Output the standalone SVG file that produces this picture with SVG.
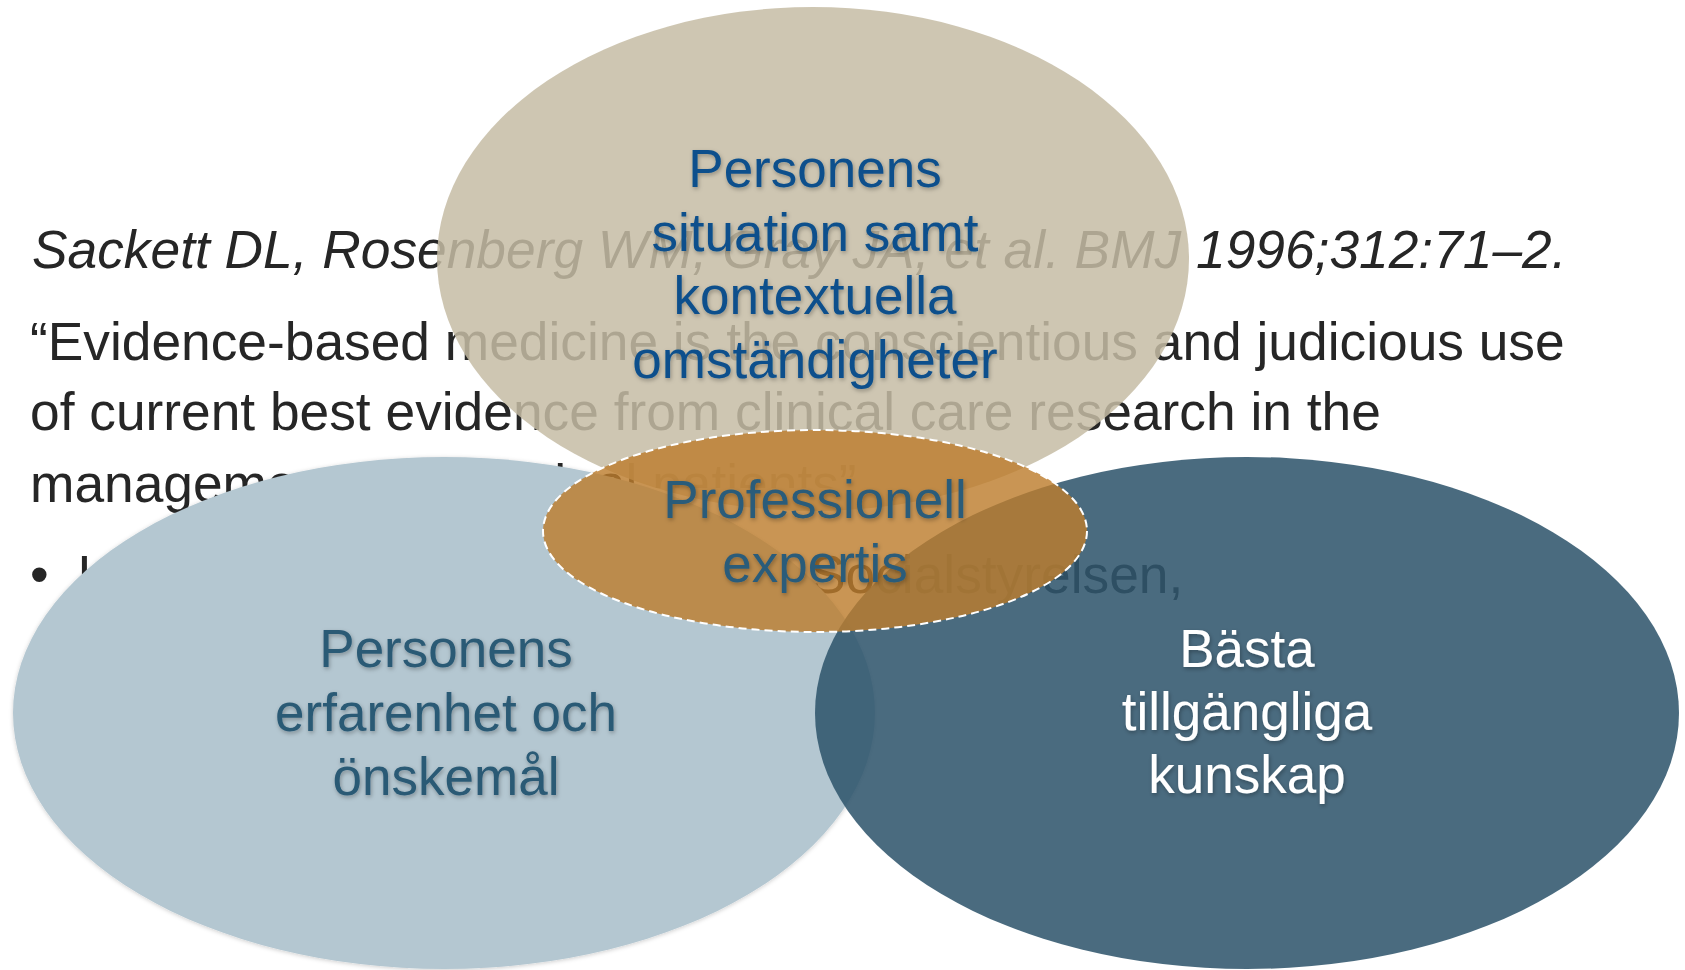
<svg xmlns="http://www.w3.org/2000/svg" width="1685" height="970" viewBox="0 0 1685 970">
  <style>
    .body { font-family: "Liberation Sans", Arial, sans-serif; font-size: 53.3px; fill: #262626; }
    .it { font-style: italic; }
    .lbl { font-family: "Liberation Sans", Arial, sans-serif; font-size: 53px; text-anchor: middle; filter: url(#tshadow); }
  </style>
  <defs>
    <filter id="tshadow" x="-10%" y="-30%" width="120%" height="160%">
      <feDropShadow dx="1" dy="2" stdDeviation="2" flood-color="#000" flood-opacity="0.3"/>
    </filter>
    <filter id="eshadow" x="-5%" y="-5%" width="110%" height="110%">
      <feDropShadow dx="0" dy="1" stdDeviation="2" flood-color="#000" flood-opacity="0.2"/>
    </filter>
    <clipPath id="mgmtClip">
      <rect x="0" y="0" width="590" height="970"/>
      <rect x="590" y="0" width="1095" height="488"/>
    </clipPath>
  </defs>

  <g id="background-text">
    <text class="body it" x="32" y="268">Sackett DL, Rosenberg WM, Gray JA, et al. BMJ 1996;312:71–2.</text>
    <text class="body" x="30" y="360">“Evidence-based medicine is the conscientious and judicious use</text>
    <text class="body" x="30" y="430">of current best evidence from clinical care research in the</text>
    <text class="body" x="30" y="502" clip-path="url(#mgmtClip)">management of individual patients”</text>
    <text class="body" x="30" y="593">•</text>
    <text class="body" x="77" y="593">I</text>
    <text class="body" x="810" y="593">Socialstyrelsen,</text>
  </g>

  <g id="node-context">
    <ellipse cx="813" cy="259" rx="376" ry="252" fill="#c6bca5" fill-opacity="0.85"/>
  </g>
  <g id="node-experience">
    <ellipse cx="444" cy="713" rx="431" ry="256" fill="#b4c7d1" filter="url(#eshadow)"/>
  </g>
  <g id="node-knowledge">
    <ellipse cx="1247" cy="713" rx="432" ry="256" fill="#2f556c" fill-opacity="0.87"/>
  </g>
  <g id="node-expertise">
    <ellipse cx="815" cy="531" rx="272" ry="101" fill="#bc7c2c" fill-opacity="0.81" stroke="#ffffff" stroke-width="2" stroke-dasharray="8 5"/>
  </g>

  <g id="labels">
    <text class="lbl" x="815" y="187" fill="#0b4f8c">Personens</text>
    <text class="lbl" x="815" y="251" fill="#0b4f8c">situation samt</text>
    <text class="lbl" x="815" y="314" fill="#0b4f8c">kontextuella</text>
    <text class="lbl" x="815" y="378" fill="#0b4f8c">omständigheter</text>

    <text class="lbl" x="815" y="518" fill="#2b5c7a">Professionell</text>
    <text class="lbl" x="815" y="582" fill="#2b5c7a">expertis</text>

    <text class="lbl" x="446" y="667" fill="#2b5a75">Personens</text>
    <text class="lbl" x="446" y="731" fill="#2b5a75">erfarenhet och</text>
    <text class="lbl" x="446" y="795" fill="#2b5a75">önskemål</text>

    <text class="lbl" x="1247" y="667" fill="#ffffff">Bästa</text>
    <text class="lbl" x="1247" y="730" fill="#ffffff">tillgängliga</text>
    <text class="lbl" x="1247" y="793" fill="#ffffff">kunskap</text>
  </g>
  <g id="connectors"/>
</svg>
